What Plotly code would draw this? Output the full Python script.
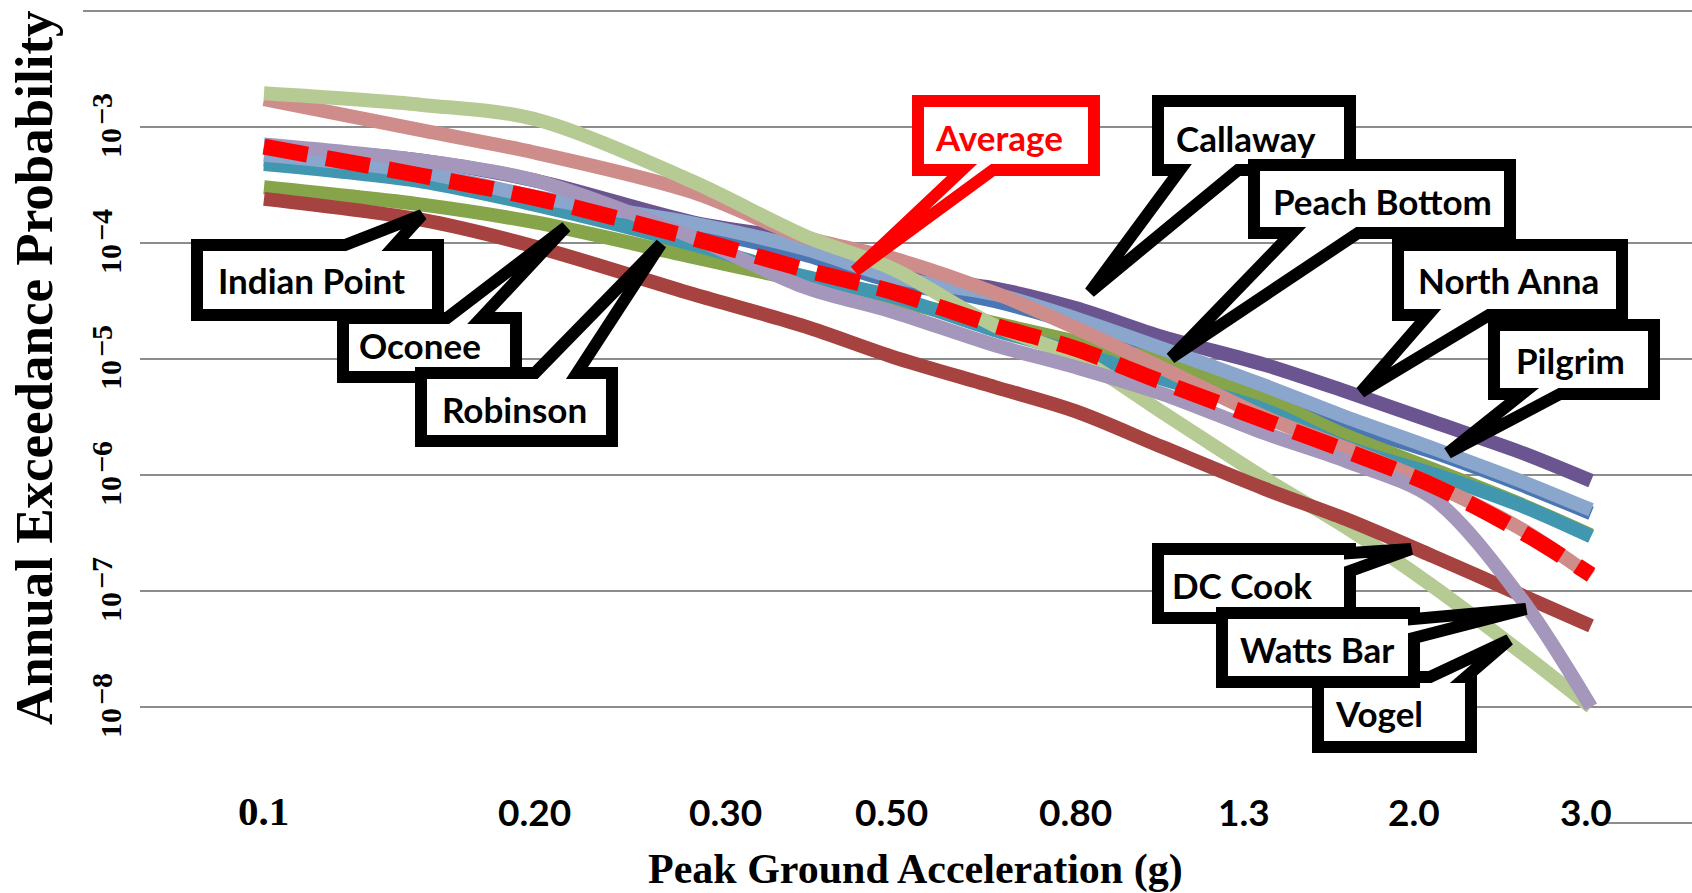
import math
import plotly.graph_objects as go

# ---------------- data ----------------
pga = [0.1, 0.15, 0.2, 0.3, 0.4, 0.5, 0.65, 0.8, 1.0, 1.3, 1.6, 2.0, 2.5, 3.0]

north_anna   = [6.76e-4, 5.13e-4, 3.47e-4, 1.51e-4, 1.02e-4, 5.50e-5, 4.07e-5, 2.75e-5, 1.55e-5, 8.91e-6, 5.25e-6, 2.88e-6, 1.58e-6, 8.91e-7]
peach_bottom = [5.25e-4, 3.72e-4, 2.34e-4, 1.32e-4, 7.94e-5, 4.68e-5, 3.16e-5, 2.00e-5, 1.07e-5, 5.25e-6, 2.75e-6, 1.58e-6, 8.32e-7, 4.68e-7]
indian_point = [3.02e-4, 2.14e-4, 1.51e-4, 7.59e-5, 4.68e-5, 3.24e-5, 2.04e-5, 1.41e-5, 9.55e-6, 4.57e-6, 2.19e-6, 1.12e-6, 5.62e-7, 3.02e-7]
oconee       = [4.79e-4, 3.39e-4, 2.14e-4, 9.77e-5, 5.13e-5, 3.47e-5, 1.78e-5, 1.15e-5, 6.76e-6, 3.63e-6, 1.74e-6, 1.02e-6, 5.50e-7, 2.95e-7]
pilgrim      = [5.75e-4, 4.07e-4, 2.51e-4, 1.48e-4, 8.91e-5, 5.13e-5, 3.63e-5, 2.24e-5, 1.23e-5, 5.89e-6, 3.16e-6, 1.70e-6, 8.91e-7, 5.01e-7]
callaway     = [1.74e-3, 9.33e-4, 6.03e-4, 2.75e-4, 1.12e-4, 7.41e-5, 3.72e-5, 1.86e-5, 8.32e-6, 3.16e-6, 1.70e-6, 8.32e-7, 3.47e-7, 1.35e-7]
vogel        = [1.95e-3, 1.55e-3, 1.17e-3, 3.39e-4, 1.15e-4, 6.03e-5, 1.95e-5, 1.05e-5, 3.47e-6, 9.33e-7, 3.55e-7, 1.10e-7, 3.02e-8, 1.00e-8]
dc_cook      = [2.40e-4, 1.58e-4, 9.33e-5, 3.63e-5, 1.91e-5, 1.05e-5, 5.75e-6, 3.55e-6, 1.74e-6, 7.59e-7, 4.17e-7, 2.00e-7, 9.33e-8, 5.01e-8]
watts_bar    = [7.08e-4, 5.13e-4, 3.47e-4, 1.12e-4, 4.17e-5, 2.57e-5, 1.32e-5, 8.51e-6, 5.01e-6, 2.29e-6, 1.32e-6, 6.31e-7, 8.91e-8, 1.00e-8]
average      = [6.76e-4, 3.80e-4, 2.45e-4, 1.10e-4, 5.89e-5, 3.80e-5, 1.95e-5, 1.23e-5, 6.31e-6, 2.95e-6, 1.62e-6, 8.13e-7, 3.31e-7, 1.38e-7]

x_tick_values = [0.1, 0.2, 0.3, 0.5, 0.8, 1.3, 2.0, 3.0]
x_tick_labels = ["0.1", "0.20", "0.30", "0.50", "0.80", "1.3", "2.0", "3.0"]
y_tick_values = [1e-8, 1e-7, 1e-6, 1e-5, 1e-4, 1e-3]
y_tick_base = "10"
y_tick_exponents = ["\u22128", "\u22127", "\u22126", "\u22125", "\u22124", "\u22123"]

# ---------------- layout geometry ----------------
W, H = 1692, 893
ML, MR, MT, MB = 140, 0, 11, 70
PW, PH = W - ML - MR, H - MT - MB


def px(x):
    return (x - ML) / PW


def py(y):
    return (H - MB - y) / PH


series = [
    ("North Anna", north_anna, "#6B5590"),
    ("Peach Bottom", peach_bottom, "#4A77B4"),
    ("Indian Point", indian_point, "#86A54A"),
    ("Oconee", oconee, "#4097AF"),
    ("Pilgrim", pilgrim, "#8BA6CC"),
    ("Callaway", callaway, "#CE8D8B"),
    ("Vogel", vogel, "#B5CB93"),
    ("DC Cook", dc_cook, "#A6423F"),
    ("Watts Bar", watts_bar, "#A596BC"),
]

fig = go.Figure()
for name, vals, col in series:
    fig.add_trace(go.Scatter(x=pga, y=vals, name=name, mode="lines",
                             line=dict(color=col, width=14, shape="spline", smoothing=0.9),
                             hoverinfo="skip"))
fig.add_trace(go.Scatter(x=pga, y=average, name="Average", mode="lines",
                         line=dict(color="#FF0000", width=16, dash="44px,19px",
                                   shape="spline", smoothing=0.9),
                         hoverinfo="skip"))

shapes = [
    dict(type="line", xref="paper", yref="paper", x0=px(83), x1=1, y0=1, y1=1,
         line=dict(color="#8C8C8C", width=2), layer="below"),
    dict(type="line", xref="paper", yref="paper", x0=px(1603), x1=1, y0=0, y1=0,
         line=dict(color="#8C8C8C", width=2), layer="below"),
]


def callout(box, side, base, tip, color="black"):
    x0, y0, x1, y1 = box
    a, b = base
    tx, ty = tip
    pts = [(x0, y0)]
    if side == "top":
        pts += [(a, y0), (tx, ty), (b, y0)]
    pts.append((x1, y0))
    if side == "right":
        pts += [(x1, a), (tx, ty), (x1, b)]
    pts.append((x1, y1))
    if side == "bottom":
        pts += [(b, y1), (tx, ty), (a, y1)]
    pts.append((x0, y1))
    path = "M " + " L ".join(f"{px(x):.5f},{py(y):.5f}" for x, y in pts) + " Z"
    return dict(type="path", xref="paper", yref="paper", path=path,
                line=dict(color=color, width=12), fillcolor="white", layer="above")


callouts = [
    # label, box (x0,y0,x1,y1), side, base, tip, text centre, colour
    ("Indian Point", (197, 245, 438, 315), "top", (345, 395), (422, 215), (311, 280), "black"),
    ("Oconee", (343, 318, 516, 377), "top", (447, 481), (566, 227), (420, 345), "black"),
    ("Robinson", (421, 373, 612, 441), "top", (535, 577), (661, 244), (514, 409), "black"),
    ("Average", (918, 101, 1094, 170), "bottom", (962, 993), (855, 271), (999, 137), "#FF0000"),
    ("Callaway", (1158, 101, 1350, 170), "bottom", (1180, 1238), (1090, 292), (1246, 138), "black"),
    ("Peach Bottom", (1254, 165, 1510, 233), "bottom", (1292, 1358), (1171, 358), (1382, 201), "black"),
    ("North Anna", (1398, 245, 1622, 315), "bottom", (1428, 1489), (1361, 392), (1508, 280), "black"),
    ("Pilgrim", (1494, 325, 1654, 394), "bottom", (1522, 1560), (1448, 453), (1570, 360), "black"),
    ("DC Cook", (1158, 549, 1350, 618), "right", (553, 571), (1411, 549), (1242, 585), "black"),
    ("Vogel", (1318, 677, 1471, 747), "top", (1430, 1466), (1509, 640), (1379, 713), "black"),
    ("Watts Bar", (1222, 613, 1414, 682), "right", (619, 638), (1526, 609), (1317, 649), "black"),
]

annotations = []
for label, box, side, base, tip, tc, col in callouts:
    shapes.append(callout(box, side, base, tip, col))
    annotations.append(dict(text=label, xref="paper", yref="paper", x=px(tc[0]), y=py(tc[1]),
                            xanchor="center", yanchor="middle", showarrow=False,
                            font=dict(family="Lato", size=35, color=col, weight="bold")))

# x tick labels (placed inside the plotting area as in the reference)
label_shift = [0, 0, 33, 0, 0, -21, -19, -5]
for v, t, sh in zip(x_tick_values, x_tick_labels, label_shift):
    if t == "0.1":
        f = dict(family="Liberation Serif", size=41, color="black", weight="bold")
    else:
        f = dict(family="Lato", size=37, color="black", weight="bold")
    annotations.append(dict(text=t, xref="x", yref="paper", x=math.log10(v), y=py(811),
                            xshift=sh, xanchor="center", yanchor="middle", showarrow=False, font=f))

# y tick labels: rotated "10" with a raised, full-size exponent, centred on each gridline
yfont = dict(family="Liberation Serif", size=30, color="black", weight="bold")
for v, e in zip(y_tick_values, y_tick_exponents):
    annotations.append(dict(text=y_tick_base, xref="paper", yref="y", x=px(110), y=math.log10(v),
                            yshift=-16, textangle=-90, showarrow=False,
                            xanchor="center", yanchor="middle", font=yfont))
    annotations.append(dict(text=e, xref="paper", yref="y", x=px(101), y=math.log10(v),
                            yshift=18, textangle=-90, showarrow=False,
                            xanchor="center", yanchor="middle", font=yfont))

annotations.append(dict(text="Annual Exceedance Probability", xref="paper", yref="paper",
                        x=px(34), y=py(368), textangle=-90, showarrow=False,
                        xanchor="center", yanchor="middle",
                        font=dict(family="Liberation Serif", size=53, color="black", weight="bold")))
annotations.append(dict(text="Peak Ground Acceleration (g)", xref="paper", yref="paper",
                        x=px(915), y=py(869), showarrow=False,
                        xanchor="center", yanchor="middle",
                        font=dict(family="Liberation Serif", size=42, color="black", weight="bold")))

fig.update_layout(
    width=W, height=H, autosize=False,
    margin=dict(l=ML, r=MR, t=MT, b=MB, pad=0),
    paper_bgcolor="white", plot_bgcolor="white",
    showlegend=False,
    shapes=shapes, annotations=annotations,
    xaxis=dict(type="log", range=[-1.1380, 0.5895], showgrid=False, zeroline=False,
               showline=False, showticklabels=False, ticks=""),
    yaxis=dict(type="log", range=[-9, -2], tickvals=y_tick_values,
               showticklabels=False, showgrid=True, gridcolor="#8C8C8C", gridwidth=2,
               zeroline=False, showline=False, ticks=""),
)

fig.write_html("out.html")
